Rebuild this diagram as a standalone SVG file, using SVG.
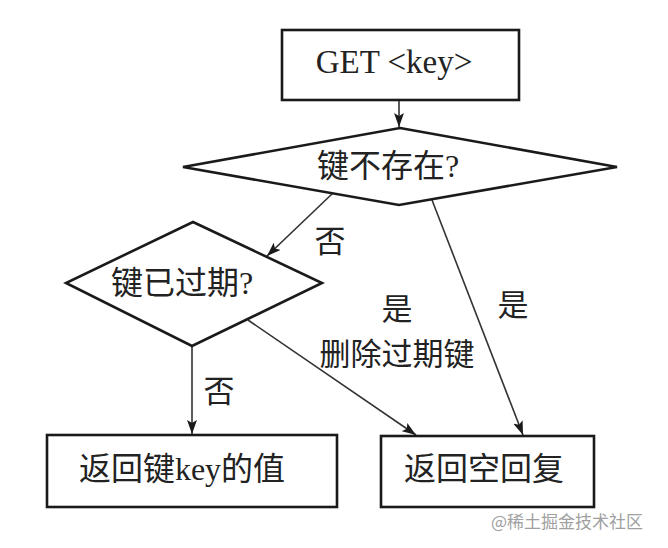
<svg xmlns="http://www.w3.org/2000/svg" width="668" height="548" viewBox="0 0 668 548">
<style>
.shape{fill:#fff;stroke:#1a1a1a;stroke-width:2.6;stroke-linejoin:miter}
.t{font-family:"Liberation Serif","Noto Sans CJK SC",serif;font-size:32px;fill:#222;text-anchor:middle}
.lbl{font-family:"Liberation Serif","Noto Sans CJK SC",serif;font-size:31px;fill:#222;text-anchor:middle}
.conn{fill:none;stroke:#333;stroke-width:1.6}
.wm{font-family:"Noto Sans CJK SC",sans-serif;font-size:17px;fill:#a0a0a0}
</style>
<defs>
<marker id="arr" viewBox="0 0 14 10" refX="14" refY="5" markerWidth="14" markerHeight="10" markerUnits="userSpaceOnUse" orient="auto">
<path d="M0,0 L14,5 L0,10 L3,5 Z" fill="#1a1a1a"/>
</marker>
</defs>
<rect width="668" height="548" fill="#fff"/>
<g id="connectors">
<line class="conn" x1="399" y1="101" x2="399" y2="127" marker-end="url(#arr)"/>
<line class="conn" x1="333" y1="193" x2="267" y2="256" marker-end="url(#arr)"/>
<line class="conn" x1="432" y1="200" x2="523" y2="435" marker-end="url(#arr)"/>
<line class="conn" x1="248" y1="320" x2="416" y2="435" marker-end="url(#arr)"/>
<line class="conn" x1="192" y1="347" x2="192" y2="434" marker-end="url(#arr)"/>
</g>
<g id="node-get">
<rect class="shape" x="282" y="30" width="237" height="70"/>
<text x="394" y="73" style="font-family:'Liberation Serif',serif;font-size:33px;fill:#222;text-anchor:middle">GET &lt;key&gt;</text>
</g>
<g id="node-exists">
<polygon class="shape" points="400,128 617,167 399,205 183,167"/>
<text class="t" x="388" y="177">键不存在?</text>
</g>
<g id="node-expired">
<polygon class="shape" points="193,222 322,283 192,346 66,283"/>
<text class="t" x="182" y="294">键已过期?</text>
</g>
<g id="node-value">
<rect class="shape" x="47" y="435" width="290" height="72"/>
<text class="t" x="182" y="480">返回键key的值</text>
</g>
<g id="node-empty">
<rect class="shape" x="381" y="436" width="213" height="71"/>
<text class="t" x="484" y="480">返回空回复</text>
</g>
<g id="labels">
<text class="lbl" x="330" y="252">否</text>
<text class="lbl" x="219" y="402">否</text>
<text class="lbl" x="397" y="320">是</text>
<text class="lbl" x="397" y="365">删除过期键</text>
<text class="lbl" x="513" y="316">是</text>
</g>
<text class="wm" x="491" y="528">@稀土掘金技术社区</text>
</svg>
